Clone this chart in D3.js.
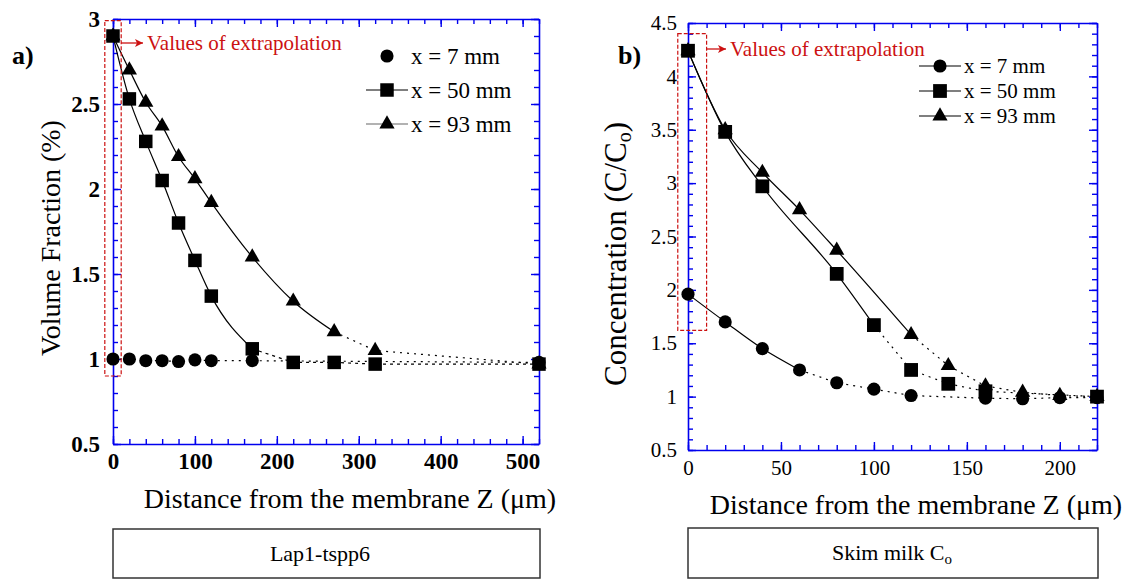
<!DOCTYPE html>
<html><head><meta charset="utf-8">
<script src="https://cdn.jsdelivr.net/npm/d3@7"></script>
<style>
body{margin:0;background:#fff}
svg{display:block}
text{font-family:"Liberation Serif","Times New Roman",Times,serif}
</style>
</head><body><svg id="c" width="1134" height="581"></svg>
<script>
// ---------- data ----------
const seriesNames = ["x = 7 mm", "x = 50 mm", "x = 93 mm"];

// Panel a) Lap1-tspp6, volume fraction (%)
const aCircleX = [0, 20, 40, 60, 80, 100, 120, 170, 520];
const aCircleY = [1.00, 1.00, 0.99, 0.99, 0.985, 0.995, 0.99, 0.99, 0.98];
const aSquareX = [0, 20, 40, 60, 80, 100, 120, 170, 220, 270, 320, 520];
const aSquareY = [2.90, 2.53, 2.28, 2.05, 1.80, 1.58, 1.37, 1.06, 0.98, 0.98, 0.97, 0.97];
const aTriX = [0, 20, 40, 60, 80, 100, 120, 170, 220, 270, 320, 520];
const aTriY = [2.90, 2.70, 2.51, 2.37, 2.19, 2.06, 1.92, 1.60, 1.34, 1.16, 1.05, 0.97];
const aXTicks = [0, 100, 200, 300, 400, 500];
const aYTicks = [0.5, 1, 1.5, 2, 2.5, 3];

// Panel b) Skim milk, concentration C/Co
const bCircleX = [0, 20, 40, 60, 80, 100, 120, 160, 180, 200, 220];
const bCircleY = [1.96, 1.70, 1.45, 1.25, 1.13, 1.07, 1.01, 0.985, 0.98, 0.99, 0.99];
const bSquareX = [0, 20, 40, 80, 100, 120, 140, 160, 220];
const bSquareY = [4.24, 3.48, 2.97, 2.15, 1.67, 1.25, 1.12, 1.05, 1.00];
const bTriX = [0, 20, 40, 60, 80, 120, 140, 160, 180, 200, 220];
const bTriY = [4.24, 3.50, 3.10, 2.75, 2.37, 1.58, 1.29, 1.10, 1.04, 1.01, 1.00];
const bXTicks = [0, 50, 100, 150, 200];
const bYTicks = [0.5, 1, 1.5, 2, 2.5, 3, 3.5, 4, 4.5];

const xTitle = "Distance from the membrane Z (\u03bcm)";
const noteText = "Values of extrapolation";

// ---------- drawing ----------
const svg = d3.select("#c");
const AX = "#0000ee";
const RED = "#cc1111";

function zip(xs, ys) { return xs.map((v, i) => ({x: v, y: ys[i]})); }

function panel(p) {
  const x = d3.scaleLinear().domain(p.xDomain).range([p.left, p.right]);
  const y = d3.scaleLinear().domain(p.yDomain).range([p.bottom, p.top]);
  const g = svg.append("g");
  const fmt = d => String(d);

  function styleAxis(sel) {
    sel.select(".domain").attr("stroke", AX).attr("stroke-width", 1.6);
    sel.selectAll(".tick line").attr("stroke", AX).attr("stroke-width", 1.4);
    sel.selectAll(".tick text").attr("fill", "#000")
      .style("font-size", p.tickFont + "px")
      .style("font-weight", p.tickBold ? "bold" : "normal")
      .style("font-family", '"Liberation Serif","Times New Roman",serif');
  }
  function minor(axisFn, scale, vals, tr) {
    const a = g.append("g").attr("transform", tr)
      .call(axisFn(scale).tickValues(vals).tickSize(-5).tickFormat(""));
    a.select(".domain").remove();
    a.selectAll(".tick line").attr("stroke", AX).attr("stroke-width", 1.4);
  }
  const xMinor = d3.range(p.xDomain[0], p.xDomain[1] + 0.001, p.xMinorStep);
  const yMinor = d3.range(0, 50).map(i => +(p.yDomain[0] + i * p.yMinorStep).toFixed(2)).filter(v => v <= p.yDomain[1] + 1e-9);

  minor(d3.axisBottom, x, xMinor, `translate(0,${p.bottom})`);
  minor(d3.axisTop, x, xMinor, `translate(0,${p.top})`);
  minor(d3.axisLeft, y, yMinor, `translate(${p.left},0)`);
  minor(d3.axisRight, y, yMinor, `translate(${p.right},0)`);

  const bx = g.append("g").attr("transform", `translate(0,${p.bottom})`)
    .call(d3.axisBottom(x).tickValues(p.xTicks).tickSize(-8).tickSizeOuter(0).tickPadding(p.xPad).tickFormat(fmt));
  styleAxis(bx);
  const tx = g.append("g").attr("transform", `translate(0,${p.top})`)
    .call(d3.axisTop(x).tickValues(p.xTicks).tickSize(-8).tickSizeOuter(0).tickFormat(""));
  styleAxis(tx);
  const ly = g.append("g").attr("transform", `translate(${p.left},0)`)
    .call(d3.axisLeft(y).tickValues(p.yTicks).tickSize(-8).tickSizeOuter(0).tickPadding(p.yPad).tickFormat(fmt));
  styleAxis(ly);
  const ry = g.append("g").attr("transform", `translate(${p.right},0)`)
    .call(d3.axisRight(y).tickValues(p.yTicks).tickSize(-8).tickSizeOuter(0).tickFormat(""));
  styleAxis(ry);

  // lines
  const solidLine = d3.line().x(d => x(d.x)).y(d => y(d.y)).curve(d3.curveMonotoneX);
  const dotLine = d3.line().x(d => x(d.x)).y(d => y(d.y));
  p.series.forEach(s => {
    const pts = zip(s.xs, s.ys);
    const solid = pts.filter(d => d.x <= s.solidTo);
    const dotted = pts.filter(d => d.x >= s.solidTo);
    if (solid.length > 1)
      g.append("path").attr("d", solidLine(solid)).attr("fill", "none").attr("stroke", "#000").attr("stroke-width", 1.2);
    if (dotted.length > 1)
      g.append("path").attr("d", dotLine(dotted)).attr("fill", "none").attr("stroke", "#000")
        .attr("stroke-width", 1.2).attr("stroke-dasharray", s.dash);
  });
  // markers
  p.series.forEach(s => {
    const sym = d3.symbol().type(s.type).size(s.size);
    g.append("g").selectAll("path").data(zip(s.xs, s.ys)).join("path")
      .attr("d", sym).attr("transform", d => `translate(${x(d.x)},${y(d.y)})`).attr("fill", "#000");
  });

  // extrapolation box
  g.append("rect").attr("x", x(p.boxX[0])).attr("width", x(p.boxX[1]) - x(p.boxX[0]))
    .attr("y", y(p.boxY[1])).attr("height", y(p.boxY[0]) - y(p.boxY[1]))
    .attr("fill", "none").attr("stroke", RED).attr("stroke-width", 1.2).attr("stroke-dasharray", "4,2");
  g.append("line").attr("x1", p.arrow[0]).attr("x2", p.arrow[1]).attr("y1", p.arrow[2]).attr("y2", p.arrow[2])
    .attr("stroke", RED).attr("stroke-width", 1.3);
  g.append("path").attr("d", `M${p.arrow[1]},${p.arrow[2]} l-8,-4 l2,4 l-2,4 z`).attr("fill", RED);
  g.append("text").attr("x", p.arrow[1] + 4).attr("y", p.arrow[2] + 7).attr("fill", RED)
    .style("font-size", "21px").text(noteText);

  // panel letter
  g.append("text").attr("x", p.letterX).attr("y", 64).style("font-size", "26px").style("font-weight", "bold").text(p.letter);

  // legend
  const lg = g.append("g");
  p.series.forEach((s, i) => {
    const yy = p.legY + i * p.legGap;
    if (s.legLine)
      lg.append("line").attr("x1", p.legX - p.legHalf).attr("x2", p.legX + p.legHalf).attr("y1", yy).attr("y2", yy)
        .attr("stroke", s.legColor || "#000").attr("stroke-width", 1.2);
    lg.append("path").attr("d", d3.symbol().type(s.type).size(s.size)()).attr("transform", `translate(${p.legX},${yy})`);
    lg.append("text").attr("x", p.legX + p.legHalf + 3).attr("y", yy).attr("dy", "0.33em")
      .style("font-size", p.legFont + "px").text(seriesNames[i]);
  });

  // axis titles
  g.append("text").attr("x", p.xTitleX).attr("y", p.xTitleY).attr("text-anchor", "middle")
    .style("font-size", "28px").text(xTitle);
  const yt = g.append("text").attr("transform", `translate(${p.yTitleX},${p.yTitleY}) rotate(-90)`)
    .attr("text-anchor", "middle").style("font-size", p.yTitleFont + "px");
  p.yTitle(yt);

  // caption box
  g.append("rect").attr("x", p.capBox[0]).attr("y", p.capBox[1]).attr("width", p.capBox[2] - p.capBox[0])
    .attr("height", p.capBox[3] - p.capBox[1]).attr("fill", "none").attr("stroke", "#333").attr("stroke-width", 1.5);
  const ct = g.append("text").attr("x", p.capX).attr("y", (p.capBox[1] + p.capBox[3]) / 2).attr("dy", "0.33em")
    .attr("text-anchor", "middle").style("font-size", "22px");
  p.caption(ct);
}

panel({
  xDomain: [0, 520], yDomain: [0.5, 3],
  left: 113, right: 539, top: 19, bottom: 444,
  xTicks: aXTicks, yTicks: aYTicks, xMinorStep: 20, yMinorStep: 0.1,
  tickFont: 23, tickBold: true, xPad: 9, yPad: 13,
  series: [
    {xs: aCircleX, ys: aCircleY, type: d3.symbolCircle, size: 135, solidTo: -1, dash: "2,5", legLine: false},
    {xs: aSquareX, ys: aSquareY, type: d3.symbolSquare, size: 182, solidTo: 170, dash: "3,4", legLine: true},
    {xs: aTriX, ys: aTriY, type: d3.symbolTriangle, size: 100, solidTo: 270, dash: "2,5", legLine: true, legColor: "#666"}
  ],
  boxX: [-10, 10], boxY: [0.9, 2.99], arrow: [121, 143, 43],
  letter: "a)", letterX: 12,
  legX: 387, legHalf: 21, legY: 56, legGap: 34, legFont: 23,
  xTitleX: 350, xTitleY: 508,
  yTitleX: 60, yTitleY: 238, yTitleFont: 28,
  yTitle: t => t.text("Volume Fraction (%)"),
  capBox: [113, 529, 540, 578], capX: 320,
  caption: t => t.text("Lap1-tspp6")
});

panel({
  xDomain: [0, 220], yDomain: [0.5, 4.5],
  left: 688, right: 1097, top: 23, bottom: 450,
  xTicks: bXTicks, yTicks: bYTicks, xMinorStep: 10, yMinorStep: 0.1,
  tickFont: 21, tickBold: false, xPad: 10, yPad: 11,
  series: [
    {xs: bCircleX, ys: bCircleY, type: d3.symbolCircle, size: 135, solidTo: 60, dash: "2,5", legLine: true},
    {xs: bSquareX, ys: bSquareY, type: d3.symbolSquare, size: 190, solidTo: 100, dash: "2,5", legLine: true},
    {xs: bTriX, ys: bTriY, type: d3.symbolTriangle, size: 100, solidTo: 120, dash: "2,5", legLine: true}
  ],
  boxX: [-5.5, 10], boxY: [1.62, 4.4], arrow: [707, 726, 49],
  letter: "b)", letterX: 618,
  legX: 940, legHalf: 21, legY: 66, legGap: 25, legFont: 21,
  xTitleX: 916, xTitleY: 514,
  yTitleX: 626, yTitleY: 254, yTitleFont: 31,
  yTitle: t => { t.append("tspan").text("Concentration (C/C"); t.append("tspan").attr("dy", 5).style("font-size", "20px").text("o"); t.append("tspan").attr("dy", -5).text(")"); },
  capBox: [688, 528, 1098, 578], capX: 892,
  caption: t => { t.append("tspan").text("Skim milk C"); t.append("tspan").attr("dy", 4).style("font-size", "15px").text("o"); }
});
</script>
</body></html>
